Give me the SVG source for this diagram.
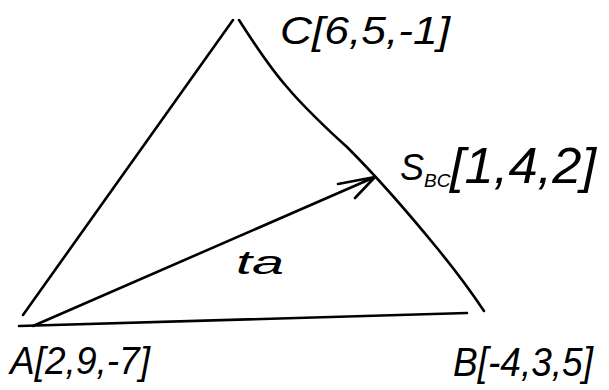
<svg xmlns="http://www.w3.org/2000/svg" width="609" height="390" viewBox="0 0 609 390">
<defs>
<style>
.ln{fill:none;stroke:#000;stroke-width:2.6;stroke-linecap:round;stroke-linejoin:round}
.lb{font-family:"Liberation Sans",Arial,sans-serif;font-style:italic;fill:#000}
</style>
</defs>
<rect width="609" height="390" fill="#fff"/>
<g id="connectors">
<path class="ln" d="M233,20 L23,315"/>
<path class="ln" d="M239,20 C255,45 270,68 287,87 C300,103 330,132 347,147 C375,175 410,215 437,248 C455,270 470,290 484,311"/>
<path class="ln" d="M19,326 L467,313"/>
<path id="ta" class="ln" d="M33,326 L375,177 M338,184 L375,177 L355,198"/>
</g>
<g id="node-C"><text class="lb" x="280" y="44" font-size="38" textLength="170" lengthAdjust="spacingAndGlyphs">C[6,5,-1]</text></g>
<g id="node-S"><text class="lb" x="400" y="180" font-size="36">S</text><text class="lb" x="424" y="187" font-size="19">BC</text><text class="lb" x="450" y="183" font-size="50" textLength="146" lengthAdjust="spacingAndGlyphs">[1,4,2]</text></g>
<g id="node-A"><text class="lb" x="10" y="374" font-size="38" textLength="140" lengthAdjust="spacingAndGlyphs">A[2,9,-7]</text></g>
<g id="node-B"><text class="lb" x="453" y="376" font-size="40" textLength="140" lengthAdjust="spacingAndGlyphs">B[-4,3,5]</text></g>
<g id="label-ta"><text class="lb" x="236" y="274" font-size="34" textLength="48" lengthAdjust="spacingAndGlyphs">ta</text></g>
</svg>
